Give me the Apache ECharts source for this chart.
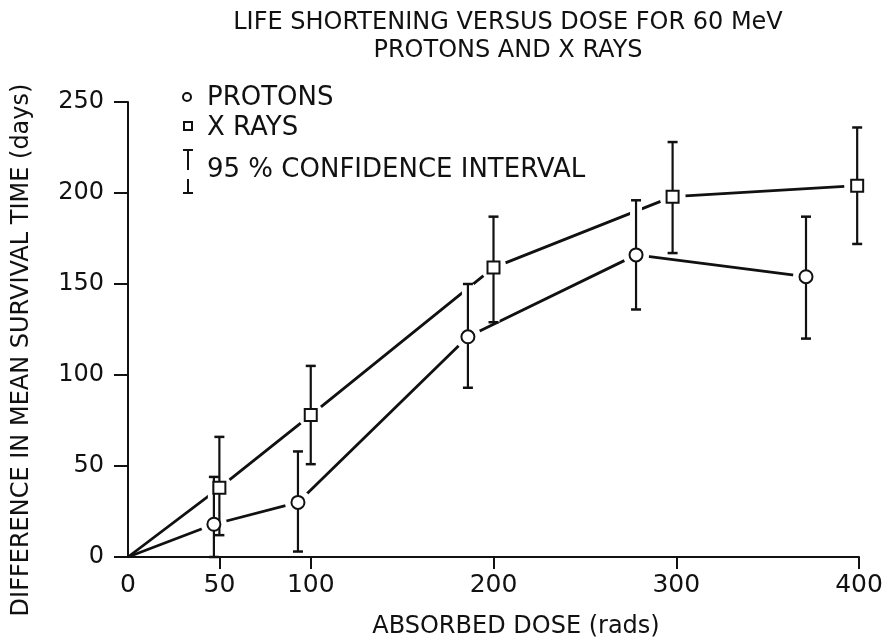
<!DOCTYPE html>
<html>
<head>
<meta charset="utf-8">
<script src="https://cdn.jsdelivr.net/npm/echarts@6/dist/echarts.min.js"></script>
<style>
  html, body { margin: 0; background: #fff; }
  #main { width: 894px; height: 643px; }
</style>
</head>
<body>
<div id="main"></div>
<script>
  // protons: dose (rads), mean life shortening (days), 95% interval
  const protonDose = [47, 93, 186, 278, 371];
  const protonMean = [18, 30, 121, 166, 154];
  const protonLow = [0, 3, 93, 136, 120];
  const protonHigh = [44, 58, 150, 196, 187];

  // x rays
  const xrayDose = [50, 100, 200, 298, 399];
  const xrayMean = [38, 78, 159, 198, 204];
  const xrayLow = [12, 51, 129, 167, 172];
  const xrayHigh = [66, 105, 187, 228, 236];

  const xTicks = [0, 50, 100, 200, 300, 400];
  const xTickMarks = [50, 100, 200, 300, 400];

  const ink = '#111';
  const font = 'DejaVu Sans';

  const pts = (d, m) => d.map((x, i) => [x, m[i]]);
  const bars = (d, lo, hi) => d.map((x, i) => [x, lo[i], hi[i]]);
  const allBars = bars(protonDose, protonLow, protonHigh).concat(bars(xrayDose, xrayLow, xrayHigh));

  // halo = white wide stroke under the bar, so crossing lines get a gap
  function barRender(halo) {
    return function (params, api) {
      const top = api.coord([api.value(0), api.value(2)]);
      const bot = api.coord([api.value(0), api.value(1)]);
      const w = 5;
      if (halo) {
        return {
          type: 'line',
          shape: { x1: top[0], y1: top[1], x2: bot[0], y2: bot[1] },
          style: { stroke: '#fff', lineWidth: 12 }
        };
      }
      return {
        type: 'group',
        children: [
          { type: 'line', shape: { x1: top[0], y1: top[1], x2: bot[0], y2: bot[1] }, style: { stroke: ink, lineWidth: 2.2 } },
          { type: 'line', shape: { x1: top[0] - w, y1: top[1], x2: top[0] + w, y2: top[1] }, style: { stroke: ink, lineWidth: 2.5 } },
          { type: 'line', shape: { x1: bot[0] - w, y1: bot[1], x2: bot[0] + w, y2: bot[1] }, style: { stroke: ink, lineWidth: 2.5 } }
        ]
      };
    };
  }

  const chart = echarts.init(document.getElementById('main'));
  chart.setOption({
    animation: false,
    backgroundColor: '#fff',
    textStyle: { fontFamily: font },
    grid: { left: 128, right: 35, top: 102, bottom: 86, containLabel: false, outerBoundsMode: 'none' },
    xAxis: {
      type: 'value', min: 0, max: 400, interval: 50, z: 10,
      splitLine: { show: false },
      axisLine: { lineStyle: { color: ink, width: 2 } },
      axisTick: { length: 12, lineStyle: { color: ink, width: 2 }, customValues: xTickMarks },
      axisLabel: { fontSize: 25, color: ink, margin: 16, fontFamily: font, customValues: xTicks }
    },
    yAxis: {
      type: 'value', min: 0, max: 250, interval: 50, z: 10,
      splitLine: { show: false },
      axisLine: { show: true, lineStyle: { color: ink, width: 2 } },
      axisTick: { show: true, length: 14, lineStyle: { color: ink, width: 2 } },
      axisLabel: { fontSize: 24, color: ink, margin: 24, fontFamily: font }
    },
    graphic: [
      { type: 'text', x: 508, y: 23, style: { text: 'LIFE SHORTENING VERSUS DOSE FOR 60 MeV', font: '24px ' + font, fill: ink, textAlign: 'center', textVerticalAlign: 'middle' } },
      { type: 'text', x: 508, y: 51, style: { text: 'PROTONS AND X RAYS', font: '24px ' + font, fill: ink, textAlign: 'center', textVerticalAlign: 'middle' } },
      { type: 'text', x: 22, y: 350, rotation: Math.PI / 2, style: { text: 'DIFFERENCE IN MEAN SURVIVAL TIME (days)', font: '24px ' + font, fill: ink, textAlign: 'center', textVerticalAlign: 'middle' } },
      { type: 'text', x: 516, y: 627, style: { text: 'ABSORBED DOSE (rads)', font: '24px ' + font, fill: ink, textAlign: 'center', textVerticalAlign: 'middle' } },
      { type: 'circle', shape: { cx: 187, cy: 97, r: 4 }, style: { fill: '#fff', stroke: ink, lineWidth: 2 } },
      { type: 'text', x: 207, y: 98, style: { text: 'PROTONS', font: '26px ' + font, fill: ink, textVerticalAlign: 'middle' } },
      { type: 'rect', shape: { x: 184, y: 122, width: 8, height: 8 }, style: { fill: '#fff', stroke: ink, lineWidth: 2 } },
      { type: 'text', x: 207, y: 128, style: { text: 'X RAYS', font: '26px ' + font, fill: ink, textVerticalAlign: 'middle' } },
      { type: 'polyline', shape: { points: [[183, 150], [193, 150]] }, style: { stroke: ink, lineWidth: 2 } },
      { type: 'polyline', shape: { points: [[188, 150], [188, 170]] }, style: { stroke: ink, lineWidth: 2 } },
      { type: 'polyline', shape: { points: [[188, 179], [188, 193]] }, style: { stroke: ink, lineWidth: 2 } },
      { type: 'polyline', shape: { points: [[183, 193], [193, 193]] }, style: { stroke: ink, lineWidth: 2 } },
      { type: 'text', x: 207, y: 170, style: { text: '95 % CONFIDENCE INTERVAL', font: '26px ' + font, fill: ink, textVerticalAlign: 'middle' } }
    ],
    series: [
      { type: 'line', z: 2, symbol: 'none', data: [[0, 0]].concat(pts(protonDose, protonMean)), lineStyle: { color: ink, width: 2.8 } },
      { type: 'line', z: 2, symbol: 'none', data: [[0, 0]].concat(pts(xrayDose, xrayMean)), lineStyle: { color: ink, width: 2.8 } },
      { type: 'custom', z: 3, renderItem: barRender(true), data: allBars },
      { type: 'scatter', z: 3, symbol: 'circle', symbolSize: 26, itemStyle: { color: '#fff', opacity: 1 }, data: pts(protonDose, protonMean).concat(pts(xrayDose, xrayMean)) },
      { type: 'custom', z: 4, renderItem: barRender(false), data: allBars },
      { type: 'scatter', z: 5, symbol: 'circle', symbolSize: 13, itemStyle: { color: '#fff', borderColor: ink, borderWidth: 2, opacity: 1 }, data: pts(protonDose, protonMean) },
      { type: 'scatter', z: 5, symbol: 'rect', symbolSize: 12, itemStyle: { color: '#fff', borderColor: ink, borderWidth: 2, opacity: 1 }, data: pts(xrayDose, xrayMean) }
    ]
  });
</script>
</body>
</html>
